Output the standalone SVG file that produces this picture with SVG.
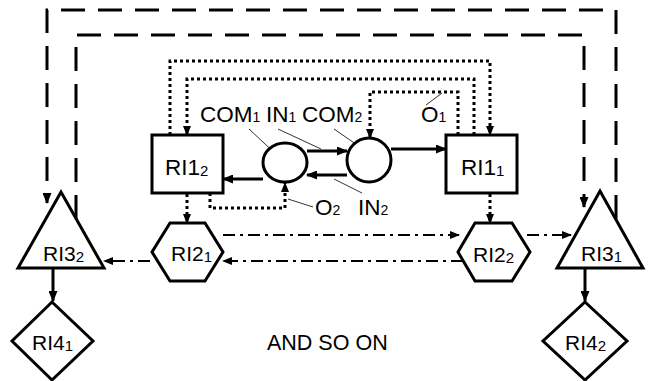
<svg xmlns="http://www.w3.org/2000/svg" width="651" height="381" viewBox="0 0 651 381">
<style>
.shape{fill:#fff;stroke:#000;stroke-width:3}
.t{font-family:"Liberation Sans",Arial,sans-serif;font-size:21px;fill:#000}
.big{font-size:22.5px}
.s{font-size:15px}
.ls{font-size:14px}
.dash{fill:none;stroke:#000;stroke-width:3;stroke-dasharray:24 13}
.dot{fill:none;stroke:#000;stroke-width:3;stroke-dasharray:3 3}
.dd{fill:none;stroke:#000;stroke-width:2;stroke-dasharray:12 5 3 5}
.solid{fill:none;stroke:#000;stroke-width:3}
.lead{fill:none;stroke:#333;stroke-width:1}
</style>
<defs>
<marker id="ah" markerUnits="userSpaceOnUse" markerWidth="11" markerHeight="9" refX="10" refY="4.5" orient="auto">
<path d="M0,0 L11,4.5 L0,9 z" fill="#000"/>
</marker>
<marker id="ahs" markerUnits="userSpaceOnUse" markerWidth="10" markerHeight="8" refX="9" refY="4" orient="auto">
<path d="M0,0 L10,4 L0,8 z" fill="#000"/>
</marker>
</defs>
<rect width="651" height="381" fill="#fff"/>

<g id="connectors">
<path class="dash" d="M616,219 V10 H47 V203" marker-end="url(#ah)"/>
<path class="dash" d="M76,219 V35 H584 V207" marker-end="url(#ah)"/>
<path class="dot" d="M170,135 V61 H490 V135" marker-end="url(#ahs)"/>
<path class="dot" d="M474,135 V79 H187 V135" marker-end="url(#ahs)"/>
<path class="dot" d="M458,135 V92 H370 V138" marker-end="url(#ahs)"/>
<path class="dot" d="M210,193 V208 H285 V183" marker-end="url(#ahs)"/>
<path class="dot" d="M187,194 V223" marker-end="url(#ahs)"/>
<path class="dot" d="M490,194 V223" marker-end="url(#ahs)"/>
<path class="dd" d="M223,235 H459" marker-end="url(#ahs)"/>
<path class="dd" d="M463,261 H223" marker-end="url(#ahs)"/>
<path class="dd" d="M150,261 H104" marker-end="url(#ahs)"/>
<path class="dd" d="M527,235 H571" marker-end="url(#ahs)"/>
<path class="solid" d="M391,149 H446" marker-end="url(#ah)"/>
<path class="solid" d="M263,179 H223" marker-end="url(#ah)"/>
<path class="solid" d="M307,151 H347" marker-end="url(#ah)"/>
<path class="solid" d="M347,175 H307" marker-end="url(#ah)"/>
<path class="solid" d="M53,268 V301" marker-end="url(#ah)"/>
<path class="solid" d="M585,268 V301" marker-end="url(#ah)"/>
<path class="lead" d="M249,129 L279,157"/>
<path class="lead" d="M278,129 L321,149"/>
<path class="lead" d="M334,129 L363,149"/>
<path class="lead" d="M334,179 L362,193"/>
<path class="lead" d="M288,199 L313,207"/>
<path class="lead" d="M426,105 L442,93"/>
</g>

<g id="RI1_2"><rect class="shape" x="152" y="135" width="71" height="58"/><text class="t big" x="165" y="175">RI1<tspan class="s" dy="1">2</tspan></text></g>
<g id="RI1_1"><rect class="shape" x="446" y="135" width="71" height="58"/><text class="t big" x="461" y="175">RI1<tspan class="s" dy="1">1</tspan></text></g>
<g id="circle1"><ellipse class="shape" cx="285" cy="162.5" rx="22" ry="19.5"/></g>
<g id="circle2"><circle class="shape" cx="369" cy="160" r="22"/></g>
<g id="RI2_1"><polygon class="shape" points="170,223 205,223 223,252 205,281 170,281 152,252"/><text class="t" x="171" y="261">RI2<tspan class="s" dy="1">1</tspan></text></g>
<g id="RI2_2"><polygon class="shape" points="475,223 512,223 530,252 512,281 475,281 458,252"/><text class="t" x="473" y="262">RI2<tspan class="s" dy="1">2</tspan></text></g>
<g id="RI3_2"><polygon class="shape" points="61,192 104,268 18,268"/><text class="t" x="43" y="261">RI3<tspan class="s" dy="1">2</tspan></text></g>
<g id="RI3_1"><polygon class="shape" points="600,191 643,268 557,268"/><text class="t" x="581" y="261">RI3<tspan class="s" dy="1">1</tspan></text></g>
<g id="RI4_1"><polygon class="shape" points="52,302 93,341 52,380 12,341"/><text class="t" x="32" y="350">RI4<tspan class="s" dy="1">1</tspan></text></g>
<g id="RI4_2"><polygon class="shape" points="585,302 627,341 585,380 543,341"/><text class="t" x="565" y="350">RI4<tspan class="s" dy="1">2</tspan></text></g>

<g id="labels">
<text class="t big" x="200" y="122">COM<tspan class="ls">1</tspan></text>
<text class="t big" x="266" y="122">IN<tspan class="ls">1</tspan></text>
<text class="t big" x="302" y="122">COM<tspan class="ls">2</tspan></text>
<text class="t big" x="421" y="122">O<tspan class="ls">1</tspan></text>
<text class="t big" x="315" y="215">O<tspan class="ls">2</tspan></text>
<text class="t big" x="358" y="215">IN<tspan class="ls">2</tspan></text>
<text class="t" x="267" y="350" style="font-size:21.5px">AND SO ON</text>
</g>
</svg>
